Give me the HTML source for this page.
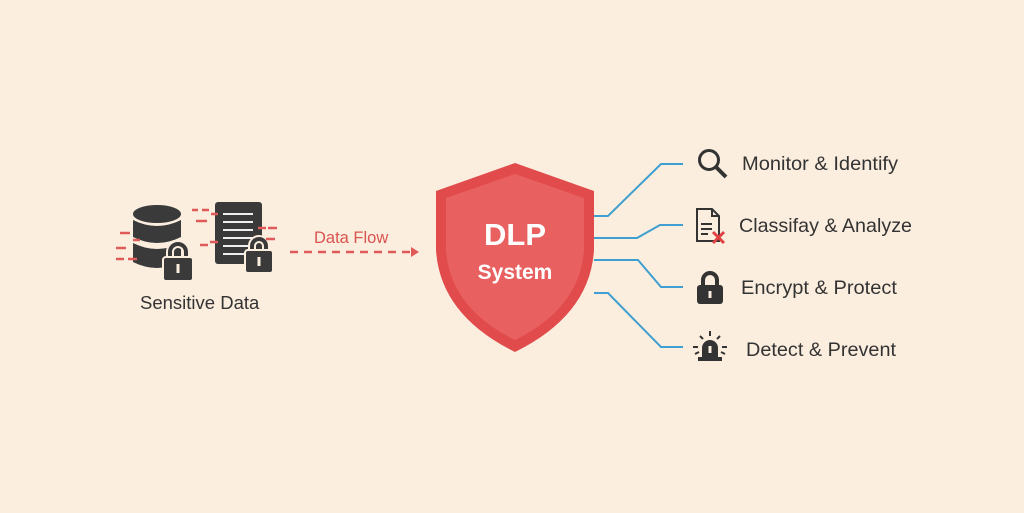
<!DOCTYPE html>
<html><head><meta charset="utf-8"><style>
html,body{margin:0;padding:0;background:#fbeedf;}
svg{display:block}
text{font-family:"Liberation Sans",sans-serif;}
</style></head><body>
<svg width="1024" height="513" viewBox="0 0 1024 513">
<rect width="1024" height="513" fill="#fbeedf"/>
<!-- database -->
<g fill="#3a3a3a">
<ellipse cx="157" cy="214" rx="24" ry="9"/>
<path d="M133 220 Q157 232 181 220 L181 237 Q157 249 133 237Z"/>
<path d="M133 243 Q157 255 181 243 L181 262 Q157 274 133 262Z"/>
</g>
<!-- lock db -->
<g><path d="M170 258 v-6 a8 8 0 0 1 16 0 v6" fill="none" stroke="#fbeedf" stroke-width="8"/>
<path d="M170 258 v-6 a8 8 0 0 1 16 0 v6" fill="none" stroke="#3a3a3a" stroke-width="4"/>
<rect x="163" y="257" width="30" height="24" rx="3" fill="#3a3a3a" stroke="#fbeedf" stroke-width="2"/>
<rect x="176.5" y="264" width="3" height="9" fill="#fbeedf"/></g>
<!-- doc -->
<rect x="215" y="202" width="47" height="62" rx="3" fill="#3a3a3a"/>
<g stroke="#eee" stroke-width="2"><line x1="223" y1="214" x2="253" y2="214"/><line x1="223" y1="222" x2="253" y2="222"/><line x1="223" y1="230" x2="253" y2="230"/><line x1="223" y1="238" x2="253" y2="238"/><line x1="223" y1="246" x2="253" y2="246"/><line x1="223" y1="254" x2="245" y2="254"/></g>
<g><path d="M252 252 v-6 a7 7 0 0 1 14 0 v6" fill="none" stroke="#fbeedf" stroke-width="8"/>
<path d="M252 252 v-6 a7 7 0 0 1 14 0 v6" fill="none" stroke="#3a3a3a" stroke-width="4"/>
<rect x="245" y="250" width="28" height="23" rx="3" fill="#3a3a3a" stroke="#fbeedf" stroke-width="2"/>
<rect x="257.5" y="257" width="3" height="9" fill="#fbeedf"/></g>
<!-- red dashes -->
<g stroke="#e05a5a" stroke-width="2.5">
<line x1="120" y1="233" x2="130" y2="233"/><line x1="133" y1="240" x2="140" y2="240"/>
<line x1="116" y1="248" x2="126" y2="248"/><line x1="116" y1="259" x2="124" y2="259"/><line x1="128" y1="259" x2="137" y2="259"/>
<line x1="192" y1="210" x2="198" y2="210"/><line x1="202" y1="210" x2="209" y2="210"/><line x1="211" y1="214" x2="218" y2="214"/>
<line x1="196" y1="221" x2="207" y2="221"/>
<line x1="258" y1="228" x2="266" y2="228"/><line x1="268" y1="228" x2="277" y2="228"/><line x1="266" y1="239" x2="275" y2="239"/>
<line x1="200" y1="245" x2="208" y2="245"/><line x1="210" y1="242" x2="218" y2="242"/>
<line x1="290" y1="252" x2="412" y2="252" stroke-dasharray="8 6"/>
</g>
<path d="M411 247 L419 252 L411 257Z" fill="#e05a5a"/>
<text x="314" y="243" font-size="16.5" fill="#d9534f">Data Flow</text>
<text x="140" y="309" font-size="18.5" fill="#333">Sensitive Data</text>
<!-- shield -->
<path d="M515 163 L594 191 L594 250 Q590 315 515 352 Q440 315 436 250 L436 191Z" fill="#e14b4b"/>
<path d="M515 174 L584 198 L584 250 Q580 308 515 340 Q450 308 446 250 L446 198Z" fill="#e86060"/>
<text x="515" y="245" font-size="31" font-weight="bold" fill="#fff" text-anchor="middle">DLP</text>
<text x="515" y="279" font-size="21" font-weight="bold" fill="#fff" text-anchor="middle">System</text>
<!-- connectors -->
<g fill="none" stroke="#3f9fd0" stroke-width="2">
<polyline points="594,216 608,216 661,164 683,164"/>
<polyline points="594,238 637,238 660,225 683,225"/>
<polyline points="594,260 638,260 661,287 683,287"/>
<polyline points="594,293 608,293 661,347 683,347"/>
</g>
<!-- icons -->
<g stroke="#333" fill="none" stroke-width="3">
<circle cx="709" cy="160" r="9.5"/><line x1="716" y1="167" x2="726" y2="177" stroke-width="4"/>
</g>
<g stroke="#333" fill="none" stroke-width="2">
<path d="M697 209 h15 l7 7 v25 h-22z"/><path d="M712 209 v7 h7"/>
<line x1="701" y1="224" x2="712" y2="224"/><line x1="701" y1="229" x2="712" y2="229"/><line x1="701" y1="234" x2="708" y2="234"/>
</g>
<g stroke="#e04040" stroke-width="3"><line x1="713" y1="232" x2="724" y2="243"/><line x1="724" y1="232" x2="713" y2="243"/></g>
<path d="M703 286 v-6 a7 7 0 0 1 14 0 v6" fill="none" stroke="#333" stroke-width="4"/>
<rect x="697" y="285" width="26" height="19" rx="3" fill="#333"/>
<rect x="708.5" y="291" width="3" height="7" fill="#fbeedf"/>
<path d="M702 358 v-10 a8 8 0 0 1 16 0 v10z" fill="#333"/>
<rect x="698" y="357" width="24" height="4" fill="#333"/>
<rect x="708.5" y="346" width="3" height="7" fill="#fbeedf"/>
<g stroke="#333" stroke-width="2"><line x1="710" y1="331" x2="710" y2="336"/><line x1="700" y1="336" x2="703" y2="339"/><line x1="720" y1="336" x2="717" y2="339"/><line x1="693" y1="347" x2="698" y2="347"/><line x1="722" y1="347" x2="727" y2="347"/><line x1="695" y1="354" x2="699" y2="352"/><line x1="725" y1="354" x2="721" y2="352"/></g>
<g font-size="19.5" fill="#333">
<text x="742" y="170" textLength="156" lengthAdjust="spacingAndGlyphs">Monitor &amp; Identify</text>
<text x="739" y="232" textLength="173" lengthAdjust="spacingAndGlyphs">Classifay &amp; Analyze</text>
<text x="741" y="294" textLength="156" lengthAdjust="spacingAndGlyphs">Encrypt &amp; Protect</text>
<text x="746" y="356" textLength="150" lengthAdjust="spacingAndGlyphs">Detect &amp; Prevent</text>
</g>
</svg>
</body></html>
